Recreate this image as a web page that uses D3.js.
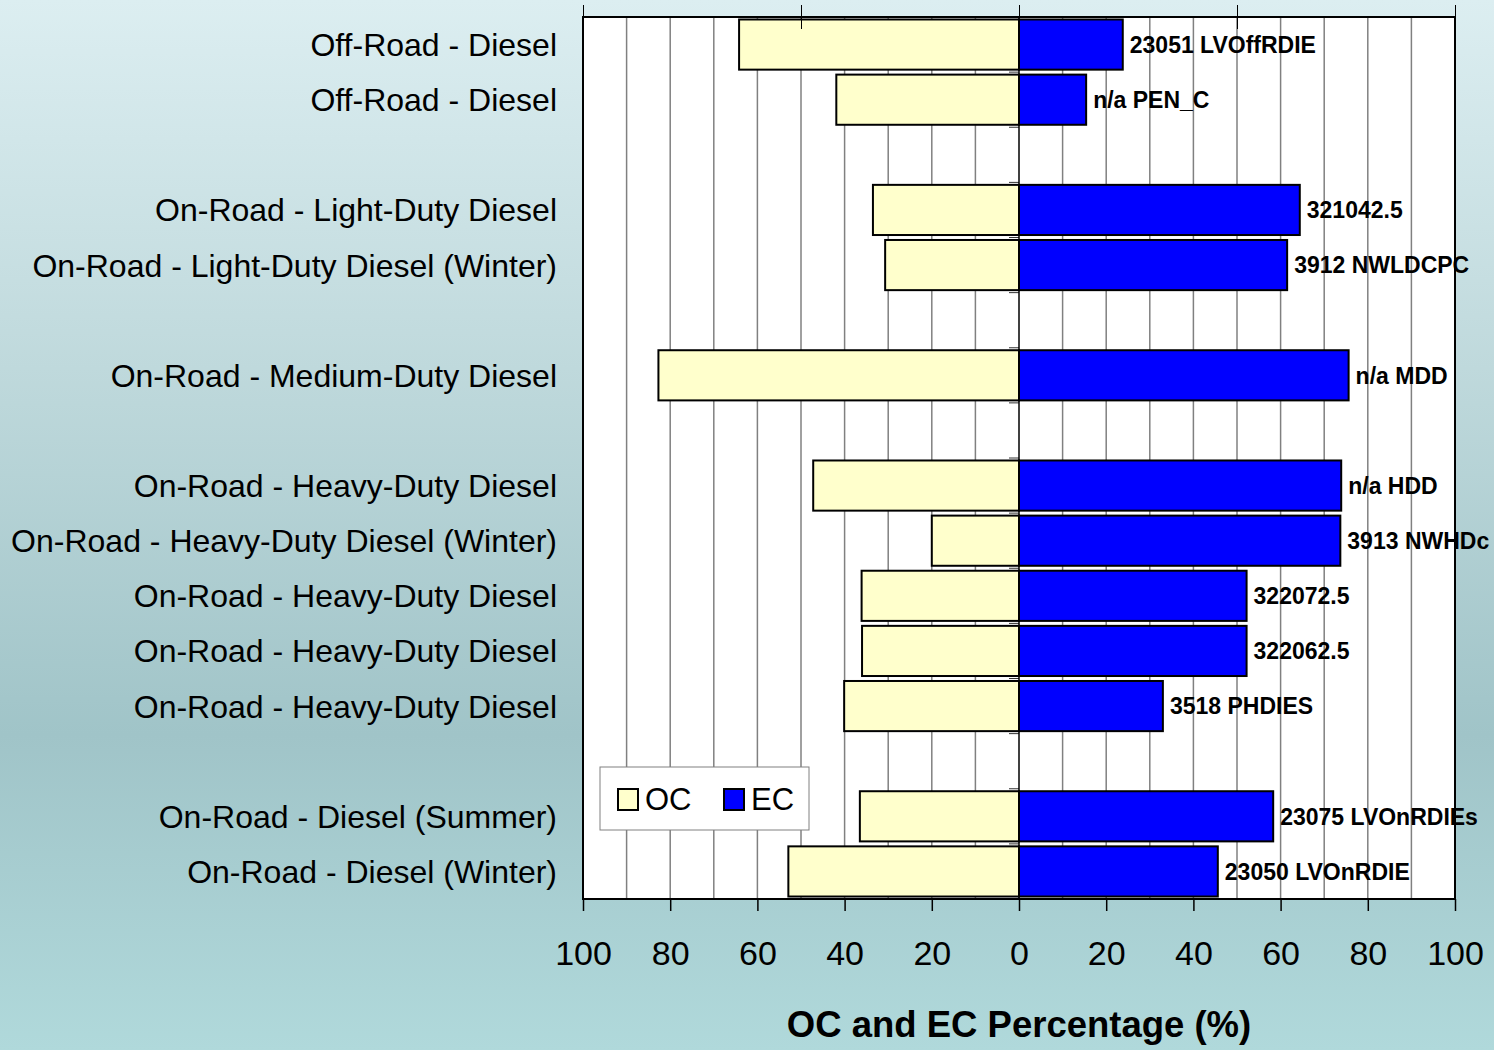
<!DOCTYPE html>
<html lang="en">
<head>
    <meta charset="UTF-8">
    <title>OC and EC Percentage</title>
    <script src="https://d3js.org/d3.v7.min.js"></script>
    <style>
        body { margin: 0; }
        svg { display: block; font-family: "Liberation Sans", Arial, sans-serif; }
    </style>
</head>
<body>
    <svg id="chart"></svg>

    <script>
        // null = empty slot between groups
        const categories = [
            "Off-Road - Diesel", "Off-Road - Diesel", null,
            "On-Road - Light-Duty Diesel", "On-Road - Light-Duty Diesel (Winter)", null,
            "On-Road - Medium-Duty Diesel", null,
            "On-Road - Heavy-Duty Diesel", "On-Road - Heavy-Duty Diesel (Winter)",
            "On-Road - Heavy-Duty Diesel", "On-Road - Heavy-Duty Diesel",
            "On-Road - Heavy-Duty Diesel", null,
            "On-Road - Diesel (Summer)", "On-Road - Diesel (Winter)"
        ];
        const ocValues = [64.2, 41.9, null, 33.5, 30.7, null, 82.7, null, 47.2, 20.0, 36.1, 36.0, 40.1, null, 36.5, 52.9];
        const ecValues = [23.8, 15.4, null, 64.4, 61.5, null, 75.6, null, 73.9, 73.7, 52.2, 52.2, 33.0, null, 58.3, 45.6];
        const ecLabels = [
            "23051 LVOffRDIE", "n/a PEN_C", null, "321042.5", "3912 NWLDCPC", null,
            "n/a MDD", null, "n/a HDD", "3913 NWHDc", "322072.5", "322062.5",
            "3518 PHDIES", null, "23075 LVOnRDIEs", "23050 LVOnRDIE"
        ];
        const xTicks = [-100, -80, -60, -40, -20, 0, 20, 40, 60, 80, 100];
        const xTitle = "OC and EC Percentage (%)";
        const seriesNames = ["OC", "EC"];
        const seriesColors = ["#FFFFCC", "#0000FF"];

        const width = 1494, height = 1050;
        const margin = { top: 17, right: 39, bottom: 151, left: 583 };
        const innerW = width - margin.left - margin.right;
        const innerH = height - margin.top - margin.bottom;

        const svg = d3.select("#chart").attr("width", width).attr("height", height);

        const grad = svg.append("defs").append("linearGradient")
            .attr("id", "bg").attr("x1", 0).attr("y1", 0).attr("x2", 0).attr("y2", 1);
        grad.append("stop").attr("offset", "0%").attr("stop-color", "#dceef1");
        grad.append("stop").attr("offset", "35%").attr("stop-color", "#bfd9dc");
        grad.append("stop").attr("offset", "70%").attr("stop-color", "#a0c4c8");
        grad.append("stop").attr("offset", "100%").attr("stop-color", "#b0d9db");
        svg.append("rect").attr("width", width).attr("height", height).attr("fill", "url(#bg)");

        const g = svg.append("g").attr("transform", `translate(${margin.left},${margin.top})`);

        const x = d3.scaleLinear().domain([-100, 100]).range([0, innerW]);
        const y = d3.scaleBand().domain(d3.range(categories.length)).range([0, innerH]).paddingInner(0.09).paddingOuter(0.045);
        const step = y.step();

        g.append("rect").attr("width", innerW).attr("height", innerH).attr("fill", "#fff");

        // vertical gridlines every 10
        g.selectAll(".grid")
            .data(d3.range(-90, 100, 10).filter(d => d !== 0))
            .enter().append("line")
            .attr("x1", d => x(d)).attr("x2", d => x(d))
            .attr("y1", 0).attr("y2", innerH)
            .attr("stroke", "#808080").attr("stroke-width", 1.5);

        // category ticks on the zero line
        g.selectAll(".ctick")
            .data(d3.range(categories.length + 1))
            .enter().append("line")
            .attr("x1", x(0) - 10).attr("x2", x(0))
            .attr("y1", d => d * step).attr("y2", d => d * step)
            .attr("stroke", "#333").attr("stroke-width", 1);

        const idx = d3.range(categories.length).filter(i => categories[i] !== null);

        g.selectAll(".oc")
            .data(idx)
            .enter().append("rect")
            .attr("x", i => x(-ocValues[i]))
            .attr("y", i => y(i))
            .attr("width", i => x(0) - x(-ocValues[i]))
            .attr("height", y.bandwidth())
            .attr("fill", seriesColors[0]).attr("stroke", "#000").attr("stroke-width", 2);

        g.selectAll(".ec")
            .data(idx)
            .enter().append("rect")
            .attr("x", x(0))
            .attr("y", i => y(i))
            .attr("width", i => x(ecValues[i]) - x(0))
            .attr("height", y.bandwidth())
            .attr("fill", seriesColors[1]).attr("stroke", "#000").attr("stroke-width", 2);

        // zero line
        g.append("line").attr("x1", x(0)).attr("x2", x(0)).attr("y1", 0).attr("y2", innerH)
            .attr("stroke", "#000").attr("stroke-width", 1.5);

        g.selectAll(".ecl")
            .data(idx)
            .enter().append("text")
            .attr("x", i => x(ecValues[i]) + 7)
            .attr("y", i => y(i) + y.bandwidth() / 2)
            .attr("dy", "0.36em")
            .attr("font-size", 23).attr("font-weight", "bold")
            .text(i => ecLabels[i]);

        // frame
        g.append("rect").attr("width", innerW).attr("height", innerH)
            .attr("fill", "none").attr("stroke", "#000").attr("stroke-width", 2);

        // category labels
        g.selectAll(".cat")
            .data(idx)
            .enter().append("text")
            .attr("x", -26)
            .attr("y", i => y(i) + y.bandwidth() / 2)
            .attr("dy", "0.36em")
            .attr("text-anchor", "end")
            .attr("font-size", 32)
            .text(i => categories[i]);

        // bottom axis
        const xAxis = g.append("g").attr("transform", `translate(0,${innerH})`)
            .call(d3.axisBottom(x).tickValues(xTicks).tickFormat(d => Math.abs(d)).tickSize(12).tickPadding(30));
        xAxis.select(".domain").remove();
        xAxis.selectAll("line").attr("stroke", "#000").attr("stroke-width", 1.5);
        xAxis.selectAll("text").attr("font-size", 34).attr("fill", "#000")
            .attr("font-family", "\"Liberation Sans\", Arial, sans-serif");

        // top secondary ticks
        const topAxis = g.append("g")
            .call(d3.axisTop(x).tickValues([-100, -50, 0, 50, 100]).tickSize(12).tickFormat(""));
        topAxis.select(".domain").remove();
        topAxis.selectAll("line").attr("stroke", "#000").attr("stroke-width", 1)
            .attr("y2", -12).attr("y1", d => Math.abs(d) === 50 ? 12 : 0);

        g.append("text")
            .attr("x", x(0)).attr("y", innerH + 138)
            .attr("text-anchor", "middle")
            .attr("font-size", 36.5).attr("font-weight", "bold")
            .text(xTitle);

        // legend
        const legend = svg.append("g").attr("transform", "translate(600,767)");
        legend.append("rect").attr("width", 209).attr("height", 63)
            .attr("fill", "#fff").attr("stroke", "#808080").attr("stroke-width", 1);
        const item = legend.selectAll(".item")
            .data(seriesNames)
            .enter().append("g")
            .attr("transform", (d, i) => `translate(${18 + i * 106},22)`);
        item.append("rect").attr("width", 20).attr("height", 21)
            .attr("fill", (d, i) => seriesColors[i]).attr("stroke", "#000").attr("stroke-width", 2);
        item.append("text").attr("x", 27).attr("y", 21)
            .attr("font-size", 31)
            .text(d => d);
    </script>
</body>
</html>
